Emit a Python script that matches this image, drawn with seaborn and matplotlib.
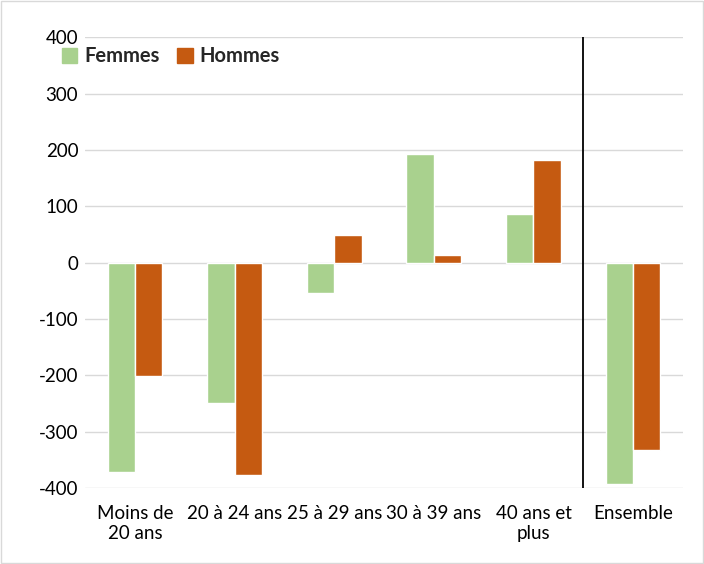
import seaborn as sns
import pandas as pd
import matplotlib.pyplot as plt

categories = ["Moins de\n20 ans", "20 à 24 ans", "25 à 29 ans", "30 à 39 ans",
              "40 ans et\nplus", "Ensemble"]
femmes = [-371, -249, -54, 193, 86, -393]
hommes = [-201, -377, 49, 13, 182, -332]

df = pd.DataFrame({
    "cat": categories * 2,
    "val": femmes + hommes,
    "sexe": ["Femmes"] * len(categories) + ["Hommes"] * len(categories),
})

sns.set_style("white")
plt.rcParams["font.family"] = ["Lato", "DejaVu Sans"]
plt.rcParams["axes.unicode_minus"] = False

fig = plt.figure(figsize=(7.04, 5.64), dpi=100)
ax = fig.add_axes([0.121, 0.135, 0.849, 0.799])

# light grey frame around the whole figure
fig.patches.append(plt.Rectangle((0.002, 0.002), 0.996, 0.996, transform=fig.transFigure,
                                 fill=False, edgecolor="#d9d9d9", linewidth=1))

sns.barplot(data=df, x="cat", y="val", hue="sexe", order=categories,
            palette={"Femmes": "#a9d18e", "Hommes": "#c55a11"},
            width=0.55, dodge=True, saturation=1, ax=ax, legend=False)

ax.set_ylim(-400, 400)
ax.set_yticks(range(-400, 401, 100))
ax.set_xlim(-0.5, 5.5)
ax.grid(axis="y", color="#d9d9d9", linewidth=1)
ax.set_axisbelow(True)
for s in ax.spines.values():
    s.set_visible(False)
ax.axvline(4.5, color="black", linewidth=1.3)
ax.set_xlabel("")
ax.set_ylabel("")
ax.tick_params(axis="both", length=0, labelsize=13.5, colors="black")
ax.tick_params(axis="x", pad=12)
ax.tick_params(axis="y", pad=5)
for lbl in ax.get_xticklabels():
    lbl.set_linespacing(1.25)

handles = [plt.Rectangle((0, 0), 1, 1, color="#a9d18e"),
           plt.Rectangle((0, 0), 1, 1, color="#c55a11")]
fig.legend(handles, ["Femmes", "Hommes"], loc="upper left", bbox_to_anchor=(0.062, 0.95),
           ncol=2, frameon=False, prop={"weight": "bold", "size": 14.5},
           handlelength=0.75, handleheight=0.75, handletextpad=0.35, columnspacing=0.9)

fig.savefig("out.png", dpi=100)
